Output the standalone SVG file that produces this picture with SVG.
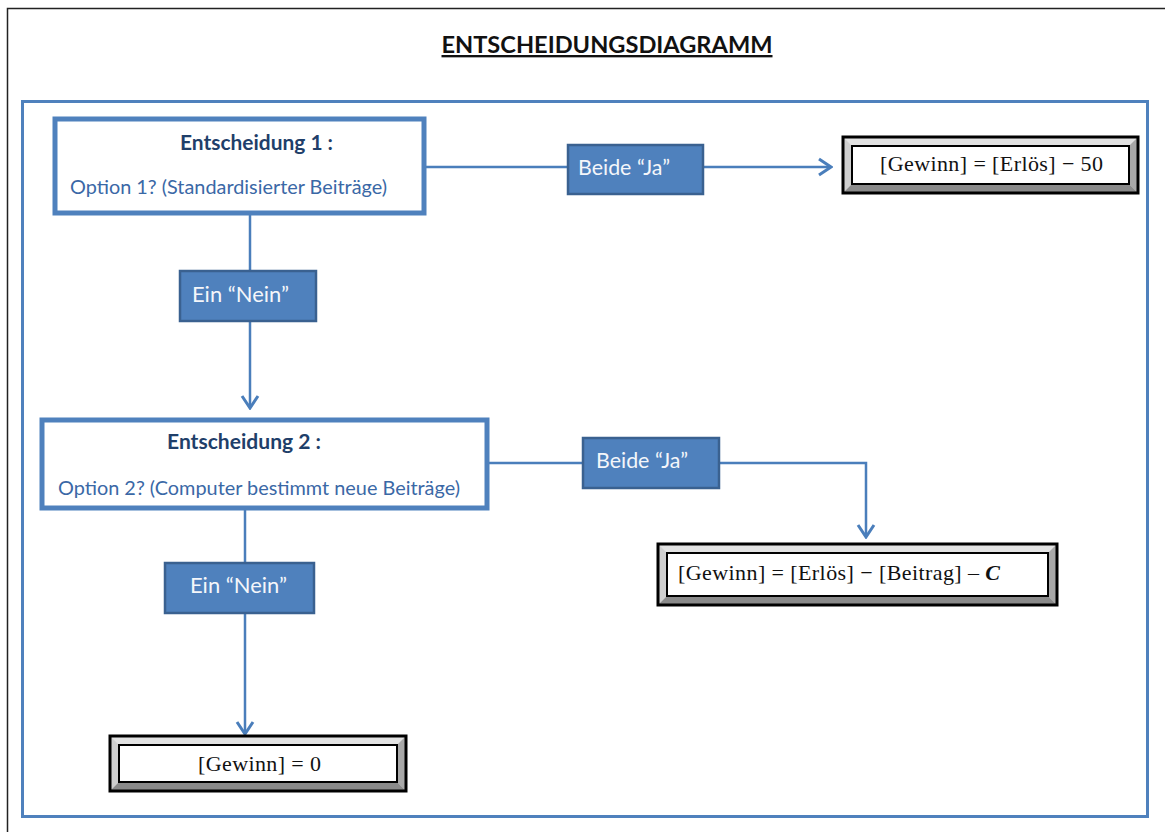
<svg xmlns="http://www.w3.org/2000/svg" width="1165" height="832" viewBox="0 0 1165 832">
<style>
.conn{fill:none;stroke:#4A7EBB;stroke-width:2.5}
.dec{fill:#fff;stroke:#4F81BD;stroke-width:5}
.head{font-family:Lato,"Open Sans",sans-serif;font-weight:bold;font-size:20px;fill:#1F3F6A}
.opt{font-family:Lato,"Open Sans",sans-serif;font-size:19.5px;fill:#3A68A6}
.lab{fill:#4F81BD;stroke:#3A6190;stroke-width:2.5}
.labt{font-family:Lato,"Open Sans",sans-serif;font-size:21px;fill:#F4F6FA}
.res{font-family:"Liberation Serif","DejaVu Serif",serif;font-size:22px;fill:#111}
.bo{fill:none;stroke:#000;stroke-width:3}
.bi{fill:#fff;stroke:#000;stroke-width:2}
.bt{fill:#e2e2e2}.bl{fill:#cfcfcf}.br{fill:#a8a8a8}.bb{fill:#8a8a8a}
</style>
<defs>
<marker id="arr" markerUnits="userSpaceOnUse" markerWidth="16" markerHeight="20" viewBox="0 0 16 20" refX="14" refY="10" orient="auto">
<path d="M2,2 L14,10 L2,18" fill="none" stroke="#4A7EBB" stroke-width="3"/>
</marker>
</defs>
<rect x="0" y="0" width="1165" height="832" fill="#fff"/>
<path d="M7.5,840 V8.5 H1170" fill="none" stroke="#222" stroke-width="1.5"/>
<g id="title">
<text x="607" y="53" text-anchor="middle" font-family="Lato,'Open Sans',sans-serif" font-weight="bold" font-size="23.5px" fill="#111" text-decoration="underline" textLength="331" lengthAdjust="spacingAndGlyphs">ENTSCHEIDUNGSDIAGRAMM</text>
</g>
<rect x="22.5" y="101.5" width="1125" height="715" fill="none" stroke="#4F81BD" stroke-width="3"/>
<g id="connectors">
<path class="conn" d="M425,167 H831" marker-end="url(#arr)"/>
<path class="conn" d="M250,214 V408" marker-end="url(#arr)"/>
<path class="conn" d="M488,463 H866 V537" marker-end="url(#arr)"/>
<path class="conn" d="M245,509 V734" marker-end="url(#arr)"/>
</g>
<g id="decision1">
<rect class="dec" x="55" y="119" width="369" height="94"/>
<text class="head" x="180" y="150" textLength="153" lengthAdjust="spacingAndGlyphs">Entscheidung 1 :</text>
<text class="opt" x="70" y="194" textLength="317" lengthAdjust="spacingAndGlyphs">Option 1? (Standardisierter Beiträge)</text>
</g>
<g id="label-ja1">
<rect class="lab" x="568" y="145" width="135" height="49"/>
<text class="labt" x="578" y="175" textLength="92" lengthAdjust="spacingAndGlyphs">Beide “Ja”</text>
</g>
<g id="result1">
<rect class="bt" x="843" y="137" width="295" height="56"/>
<polygon class="bl" points="843,137 852,146 852,184 843,193"/>
<polygon class="br" points="1138,137 1129,146 1129,184 1138,193"/>
<polygon class="bb" points="843,193 852,184 1129,184 1138,193"/>
<rect class="bo" x="843" y="137" width="295" height="56"/>
<rect class="bi" x="852" y="146" width="277" height="38"/>
<text class="res" x="880" y="171" textLength="223" lengthAdjust="spacing">[Gewinn] = [Erlös] − 50</text>
</g>
<g id="label-nein1">
<rect class="lab" x="180" y="271" width="136" height="50"/>
<text class="labt" x="192" y="302" textLength="97" lengthAdjust="spacingAndGlyphs">Ein “Nein”</text>
</g>
<g id="decision2">
<rect class="dec" x="42" y="420" width="445" height="88"/>
<text class="head" x="167" y="449" textLength="154" lengthAdjust="spacingAndGlyphs">Entscheidung 2 :</text>
<text class="opt" x="58" y="495" textLength="402" lengthAdjust="spacingAndGlyphs">Option 2? (Computer bestimmt neue Beiträge)</text>
</g>
<g id="label-ja2">
<rect class="lab" x="583" y="438" width="136" height="50"/>
<text class="labt" x="596" y="468" textLength="92" lengthAdjust="spacingAndGlyphs">Beide “Ja”</text>
</g>
<g id="result2">
<rect class="bt" x="658" y="544" width="399" height="61"/>
<polygon class="bl" points="658,544 667,553 667,596 658,605"/>
<polygon class="br" points="1057,544 1048,553 1048,596 1057,605"/>
<polygon class="bb" points="658,605 667,596 1048,596 1057,605"/>
<rect class="bo" x="658" y="544" width="399" height="61"/>
<rect class="bi" x="667" y="553" width="381" height="43"/>
<text class="res" x="678" y="580" textLength="322" lengthAdjust="spacing">[Gewinn] = [Erlös] −  [Beitrag] – <tspan font-weight="bold" font-style="italic">C</tspan></text>
</g>
<g id="label-nein2">
<rect class="lab" x="165" y="563" width="149" height="50"/>
<text class="labt" x="190" y="593" textLength="97" lengthAdjust="spacingAndGlyphs">Ein “Nein”</text>
</g>
<g id="result3">
<rect class="bt" x="110" y="736" width="296" height="55"/>
<polygon class="bl" points="110,736 119,745 119,782 110,791"/>
<polygon class="br" points="406,736 397,745 397,782 406,791"/>
<polygon class="bb" points="110,791 119,782 397,782 406,791"/>
<rect class="bo" x="110" y="736" width="296" height="55"/>
<rect class="bi" x="119" y="745" width="278" height="37"/>
<text class="res" x="198" y="771" textLength="123" lengthAdjust="spacing">[Gewinn] = 0</text>
</g>
</svg>
